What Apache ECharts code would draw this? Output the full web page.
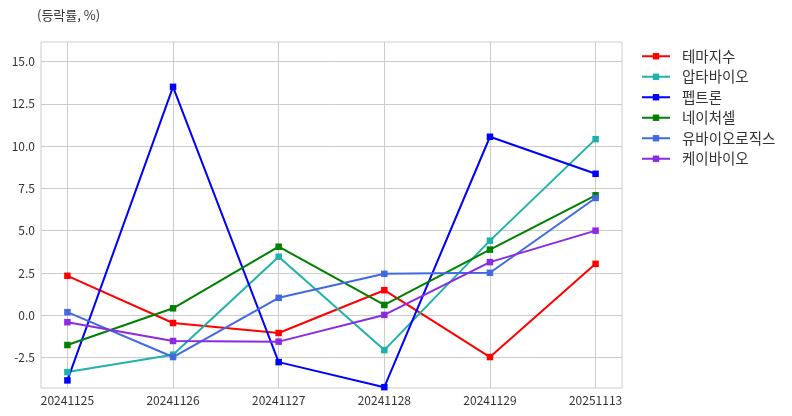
<!DOCTYPE html>
<html>
<head>
<meta charset="utf-8">
<script src="https://cdn.jsdelivr.net/npm/echarts@6/dist/echarts.min.js"></script>
<style>
html,body{margin:0;padding:0;background:#fff;}
#chart{width:792px;height:416px;}
</style>
</head>
<body>
<div id="chart"></div>
<script>
const categories = ['20241125','20241126','20241127','20241128','20241129','20251113'];
const seriesNames = ['테마지수','압타바이오','펩트론','네이처셀','유바이오로직스','케이바이오'];
const themeIndex = [2.33, -0.46, -1.05, 1.48, -2.47, 3.04];
const aptabio    = [-3.36, -2.33, 3.46, -2.06, 4.41, 10.41];
const peptron    = [-3.85, 13.5, -2.77, -4.25, 10.55, 8.36];
const naturecell = [-1.76, 0.41, 4.05, 0.61, 3.88, 7.09];
const ubiologics = [0.18, -2.47, 1.03, 2.45, 2.51, 6.93];
const kbio       = [-0.41, -1.52, -1.56, 0.02, 3.14, 5.0];
const yTicks = [-2.5, 0, 2.5, 5, 7.5, 10, 12.5, 15];

const colors = ['#ff0000','#20b2aa','#0000ff','#008000','#4169e1','#8a2be2'];
const values = [themeIndex, aptabio, peptron, naturecell, ubiologics, kbio];
const xTicks = categories.map((c, i) => i);
const FONT = "'Noto Sans CJK KR', 'Noto Sans', sans-serif";

const chart = echarts.init(document.getElementById('chart'), null, {renderer:'canvas'});
const series = values.map((vals, k) => ({
  name: seriesNames[k],
  type: 'line',
  data: vals.map((v, i) => [i, v]),
  symbol: 'rect',
  symbolSize: 6.5,
  lineStyle: {width: 2, color: colors[k]},
  itemStyle: {color: colors[k]},
  emphasis: {disabled: true},
  animation: false,
  z: 3
}));
series.unshift({
  type: 'line', data: [], silent: true, z: 0,
  markLine: {
    silent: true, symbol: 'none', animation: false, z: 0,
    label: {show: false},
    lineStyle: {color: '#cccccc', width: 1, type: 'solid'},
    emphasis: {disabled: true},
    data: xTicks.map(x => ({xAxis: x})).concat(yTicks.map(y => ({yAxis: y})))
  }
});

chart.setOption({
  animation: false,
  title: {
    text: '(등락률, %)', left: 32, top: 4,
    textStyle: {fontSize: 13, fontWeight: 'normal', color: '#333', fontFamily: FONT}
  },
  legend: {
    orient: 'vertical', left: 636, top: 44,
    itemWidth: 28, itemHeight: 8, itemGap: 6,
    textStyle: {fontSize: 14.5, color: '#333', fontFamily: FONT, lineHeight: 14, padding: [0,0,0,7]},
    data: seriesNames
  },
  grid: {
    left: 41, top: 42, width: 581, height: 346,
    show: true, borderColor: '#cccccc', borderWidth: 1, containLabel: false
  },
  xAxis: {
    type: 'value', min: -0.25, max: 5.25,
    axisLine: {show: false},
    axisTick: {show: false, customValues: xTicks},
    splitLine: {show: false},
    axisLabel: {
      show: true, customValues: xTicks, margin: 6,
      fontSize: 12, color: '#333', fontFamily: FONT,
      formatter: v => categories[Math.round(v)] || ''
    }
  },
  yAxis: {
    type: 'value', min: -4.3, max: 16.15,
    axisLine: {show: false},
    axisTick: {show: false, customValues: yTicks},
    splitLine: {show: false},
    axisLabel: {
      show: true, customValues: yTicks, margin: 6,
      fontSize: 12, color: '#333', fontFamily: FONT,
      formatter: v => Number(v).toFixed(1)
    }
  },
  series: series
});
</script>
</body>
</html>
